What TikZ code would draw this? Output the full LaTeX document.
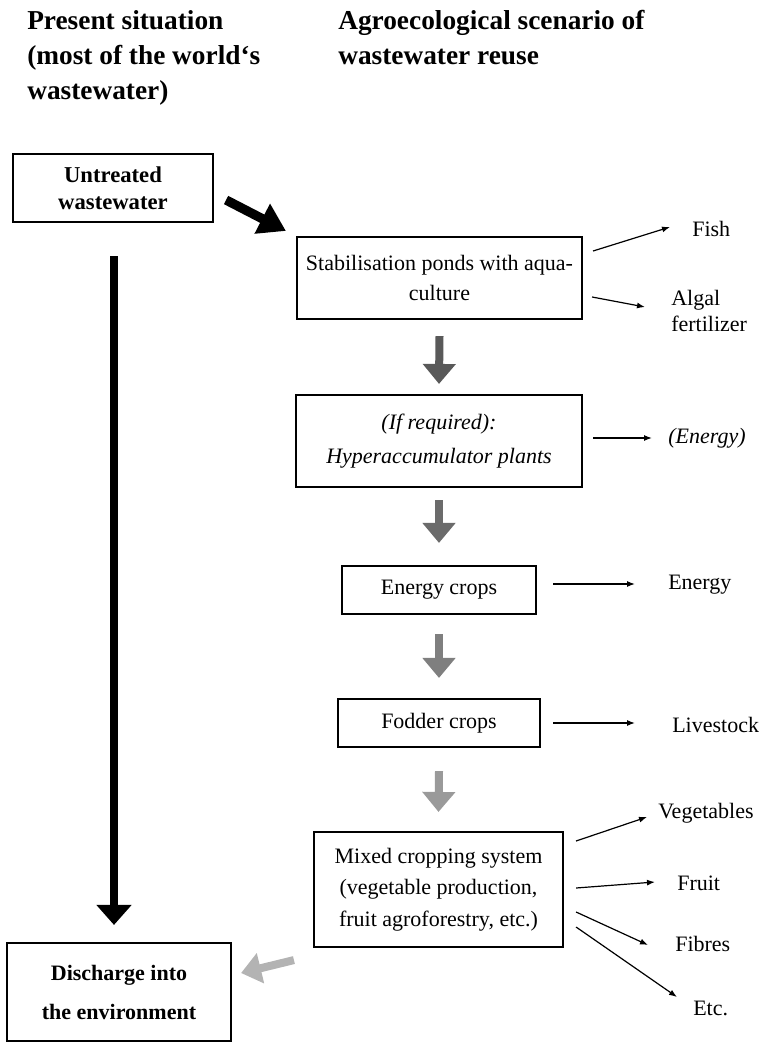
\documentclass[tikz,border=0pt]{standalone}
\usepackage{fontspec}
\setmainfont{Liberation Serif}
\usetikzlibrary{arrows.meta,calc}
\definecolor{flowA}{HTML}{595959}
\definecolor{flowB}{HTML}{6B6B6B}
\definecolor{flowC}{HTML}{7F7F7F}
\definecolor{flowD}{HTML}{9A9A9A}
\definecolor{flowE}{HTML}{B3B3B3}
\begin{document}
\begin{tikzpicture}[x=0.75pt,y=-0.75pt,
  flowbox/.style={draw,line width=1.6pt,inner sep=0pt,align=center},
  bodytext/.style={font=\fontsize{16.5}{22.5}\selectfont},
  boldtext/.style={font=\fontsize{17}{20.25}\selectfont\bfseries},
  headtext/.style={inner sep=0pt,align=left,font=\fontsize{20.5}{26.25}\selectfont\bfseries},
  outtext/.style={inner sep=0pt,align=left,font=\fontsize{16.5}{19.5}\selectfont},
  thinarrow/.style={line width=0.9pt,-{Latex[length=6pt,width=4.5pt]}},
  stagearrow/.style={line width=6pt,-{Triangle[length=15pt,width=24pt]}}
]
\useasboundingbox (0,0) rectangle (760,1042);

% column headings
\node[headtext,anchor=north west] (hleft) at (27,10)
  {Present situation\\(most of the world‘s\\wastewater)};
\node[headtext,anchor=north west] (hright) at (338,10)
  {Agroecological scenario of\\wastewater reuse};

% boxes
\node[flowbox,boldtext,minimum width=150pt,minimum height=51pt] (untreated) at (113,188)
  {Untreated\\wastewater};
\node[flowbox,bodytext,minimum width=213.75pt,minimum height=61.5pt] (stab) at (439.5,278)
  {Stabilisation ponds with aqua-\\culture};
\node[flowbox,font=\fontsize{16.5}{25.5}\selectfont\itshape,minimum width=214.5pt,minimum height=69pt] (hyper) at (439,441)
  {(If required):\\Hyperaccumulator plants};
\node[flowbox,bodytext,minimum width=145.5pt,minimum height=36pt] (energyc) at (439,590)
  {Energy crops};
\node[flowbox,bodytext,minimum width=151.5pt,minimum height=36pt] (fodder) at (439,723)
  {Fodder crops};
\node[flowbox,font=\fontsize{16.5}{23.5}\selectfont,minimum width=186.75pt,minimum height=86.25pt] (mixed) at (438.5,889.5)
  {Mixed cropping system\\(vegetable production,\\fruit agroforestry, etc.)};
\node[flowbox,font=\fontsize{16.5}{29.25}\selectfont\bfseries,minimum width=168pt,minimum height=73.5pt] (discharge) at (119,992)
  {Discharge into\\the environment};

% products
\node[outtext,anchor=west] (fish) at (692,229) {Fish};
\node[outtext,anchor=west] (algal) at (671,311) {Algal\\fertilizer};
\node[outtext,anchor=west,font=\fontsize{16.5}{19.5}\selectfont\itshape] (energyopt) at (668,438) {(Energy)};
\node[outtext,anchor=west] (energy) at (668,585) {Energy};
\node[outtext,anchor=west] (livestock) at (672,725) {Livestock};
\node[outtext,anchor=west] (veg) at (658,813) {Vegetables};
\node[outtext,anchor=west] (fruit) at (677,883) {Fruit};
\node[outtext,anchor=west] (fibres) at (675,944) {Fibres};
\node[outtext,anchor=west] (etc) at (693,1008) {Etc.};

% main flow arrows
\draw[line width=7pt,-{Triangle[length=20pt,width=24pt]}]
  ($(untreated.east)+(12,12)$) -- ($(stab.north west)+(-10,-5)$);
\draw[line width=5.5pt,-{Triangle[length=15pt,width=25.5pt]}]
  ($(untreated.south)+(1,33)$) -- ($(untreated.south |- discharge.north)+(1,-17)$);
\draw[stagearrow,flowA] ($(stab.south)+(0,16)$) -- ($(hyper.north)+(0,-10)$);
\draw[stagearrow,flowB] ($(hyper.south)+(0,12)$) -- ($(energyc.north)+(0,-22)$);
\draw[stagearrow,flowC] ($(energyc.south)+(0,19)$) -- ($(fodder.north)+(0,-20)$);
\draw[stagearrow,flowD] ($(fodder.south)+(0,23)$) -- ($(mixed.north)+(0,-19)$);
\draw[line width=6pt,flowE,-{Triangle[length=15pt,width=22.5pt]}]
  ($(mixed.south west)+(-19,12)$) -- ($(discharge.east)+(9,-19)$);

% product arrows
\draw[thinarrow] ($(stab.east)+(10,-27)$) -- ($(fish.west)+(-22,-2)$);
\draw[thinarrow] ($(stab.east)+(9,19)$) -- ($(algal.west)+(-26,-4)$);
\draw[thinarrow] ($(hyper.east)+(10,-3)$) -- ($(energyopt.west)+(-16,0)$);
\draw[thinarrow] ($(energyc.east)+(16,-6)$) -- ($(energy.west)+(-33,-1)$);
\draw[thinarrow] ($(fodder.east)+(12,0)$) -- ($(livestock.west)+(-37,-2)$);
\draw[thinarrow] ($(mixed.east)+(12,-48.5)$) -- ($(veg.west)+(-11,4)$);
\draw[thinarrow] ($(mixed.east)+(12,-1.5)$) -- ($(fruit.west)+(-22,-1)$);
\draw[thinarrow] ($(mixed.east)+(12,22.5)$) -- ($(fibres.west)+(-27,1)$);
\draw[thinarrow] ($(mixed.east)+(12,37.5)$) -- ($(etc.west)+(-16,-11)$);
\end{tikzpicture}
\end{document}
